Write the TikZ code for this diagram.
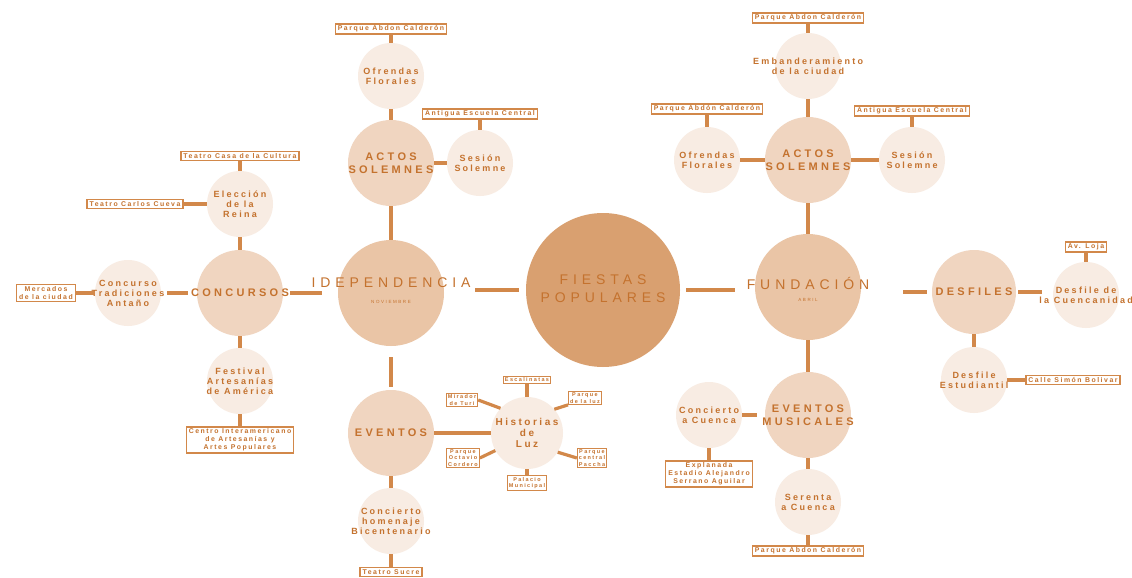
\documentclass[tikz,border=0pt]{standalone}
\usepackage{fontspec}
\setmainfont{Liberation Sans}
\newfontfamily\leaffont[LetterSpace=25]{Liberation Sans}
\newfontfamily\boxfont[LetterSpace=22]{Liberation Sans}
\newfontfamily\midfont[LetterSpace=30]{Liberation Sans}
\newfontfamily\bigfont[LetterSpace=35]{Liberation Sans}
\definecolor{linec}{RGB}{210,136,74}
\definecolor{txtc}{RGB}{196,114,46}
\definecolor{fpc}{RGB}{217,160,112}
\definecolor{secc}{RGB}{234,197,166}
\definecolor{terc}{RGB}{240,213,192}
\definecolor{leafc}{RGB}{248,236,227}
\newcommand\mybub[5]{\node[#1] (#2) at (#3) {}; \node[#5] (#2-t) at (#2) {#4};}
\tikzset{
 conn/.style={draw=linec, line width=3.2pt},
 bub/.style={circle, inner sep=0pt, draw=none},
 leaf/.style={bub, fill=leafc, minimum size=66pt},
 ter/.style={bub, fill=terc, minimum size=86pt},
 sec/.style={bub, fill=secc, minimum size=106pt},
 lt/.style={text=txtc, align=center, font=\leaffont\bfseries\fontsize{9}{10}\selectfont, inner sep=0pt},
 mt/.style={text=txtc, align=center, font=\midfont\bfseries\fontsize{11}{13}\selectfont, inner sep=0pt},
 bt/.style={text=txtc, align=center, font=\bigfont\fontsize{14}{18}\selectfont, inner sep=0pt},
 st/.style={text=txtc, font=\bigfont\fontsize{4.5}{5}\selectfont, inner sep=0pt},
 box/.style={draw=linec, line width=1.3pt, fill=white, text=txtc, align=center, font=\boxfont\bfseries\fontsize{6.9}{8}\selectfont, inner xsep=2.5pt, inner ysep=1.8pt},
 sbox/.style={box, font=\leaffont\bfseries\fontsize{5.5}{6.5}\selectfont, inner xsep=1.5pt, inner ysep=1.2pt, line width=1pt},
}
\begin{document}
\begin{tikzpicture}[x=1pt,y=-1pt]
\fill[white] (0,0) rectangle (1132,578);
\useasboundingbox (0,0) rectangle (1132,578);

% ---------- centre ----------
\node[bub, fill=fpc, minimum size=154pt] (fp) at (603,290) {};
\node[bt] (fp-t) at (603,289) {FIESTAS\\POPULARES};

% ---------- IDEPENDENCIA ----------
\node[sec] (ind) at (391,293) {};
\node[bt] (ind-t) at (391,283) {IDEPENDENCIA};
\node[st] (ind-s) at (391,302) {NOVIEMBRE};

\mybub{ter}{actosL}{391,163}{ACTOS\\SOLEMNES}{mt}
\mybub{leaf}{ofrL}{391,76}{Ofrendas\\Florales}{lt}
\node[box] (pac1) at (391,29) {Parque Abdon Calderón};
\mybub{leaf}{sesL}{480,163}{Sesión\\Solemne}{lt}
\node[box] (aec1) at (480,114) {Antigua Escuela Central};

\mybub{ter}{conc}{240,293}{CONCURSOS}{mt}
\mybub{leaf}{elec}{240,204}{Elección\\de la\\Reina}{lt}
\node[box] (tcc) at (240,156) {Teatro Casa de la Cultura};
\node[box] (tcv) at (135,204) {Teatro Carlos Cueva};
\mybub{leaf}{trad}{128,293}{Concurso\\Tradiciones\\Antaño}{lt}
\node[box] (mer) at (46,293) {Mercados\\de la ciudad};
\mybub{leaf}{fest}{240,381}{Festival\\Artesanías\\de América}{lt}
\node[box] (cen) at (240,440) {Centro Interamericano\\de Artesanías y\\Artes Populares};

\mybub{ter}{ev}{391,433}{EVENTOS}{mt}
\mybub{leaf}{conh}{391,521}{Concierto\\homenaje\\Bicentenario}{lt}
\node[box] (ts) at (391,572) {Teatro Sucre};
\node[bub, fill=leafc, minimum size=72pt] (hist) at (527,433) {};
\node[lt, font=\leaffont\bfseries\fontsize{10}{11}\selectfont] (hist-t) at (hist) {Historias\\de\\Luz};
\node[sbox] (esc) at (527,380) {Escalinatas};
\node[sbox] (mir) at (462,400) {Mirador\\de Turi};
\node[sbox] (luz) at (585,398) {Parque\\de la luz};
\node[sbox] (oct) at (463,458) {Parque\\Octavio\\Cordero};
\node[sbox] (pac) at (592,458) {Parque\\central\\Paccha};
\node[sbox] (pal) at (527,483) {Palacio\\Municipal};

% ---------- FUNDACION ----------
\node[sec] (fund) at (808,287) {};
\node[bt] (fund-t) at (808,283) {FUNDACIÓN};
\node[st] (fund-s) at (808,300) {ABRIL};

\mybub{ter}{actosR}{808,160}{ACTOS\\SOLEMNES}{mt}
\mybub{leaf}{emb}{808,66}{Embanderamiento\\de la ciudad}{lt}
\node[box] (pac2) at (808,18) {Parque Abdon Calderón};
\mybub{leaf}{ofrR}{707,160}{Ofrendas\\Florales}{lt}
\node[box] (pac3) at (707,109) {Parque Abdón Calderón};
\mybub{leaf}{sesR}{912,160}{Sesión\\Solemne}{lt}
\node[box] (aec2) at (912,111) {Antigua Escuela Central};

\mybub{ter}{evmus}{808,415}{EVENTOS\\MUSICALES}{mt}
\mybub{leaf}{concC}{709,415}{Concierto\\a Cuenca}{lt}
\node[box] (exp) at (709,474) {Explanada\\Estadio Alejandro\\Serrano Aguilar};
\mybub{leaf}{ser}{808,502}{Serenta\\a Cuenca}{lt}
\node[box] (pac4) at (808,551) {Parque Abdon Calderón};

\node[ter, minimum size=84pt] (desf) at (974,292) {};
\node[mt] (desf-t) at (desf) {DESFILES};
\mybub{leaf}{cuenc}{1086,295}{Desfile de\\la Cuencanidad}{lt}
\node[box] (loja) at (1086,247) {Av. Loja};
\mybub{leaf}{estud}{974,380}{Desfile\\Estudiantil}{lt}
\node[box] (calle) at (1073,380) {Calle Simón Bolivar};

% ---------- connectors ----------
\draw[conn, shorten <=7pt, shorten >=31pt] (fp.west) -- (fp.west -| ind.east);
\draw[conn, shorten <=6pt, shorten >=20pt] (fp.east) -- (fp.east -| fund.west);

\draw[conn] (ofrL) -- (pac1);
\draw[conn] (ofrL) -- (actosL);
\draw[conn] (actosL) -- (sesL);
\draw[conn] (sesL) -- (aec1);
\draw[conn] (actosL) -- (ind);
\draw[conn, shorten <=7pt, shorten >=16pt] (conc) -- (ind);
\draw[conn, shorten <=9pt, shorten >=6pt] (conc) -- (trad);
\draw[conn] (trad) -- (mer);
\draw[conn] (conc) -- (elec);
\draw[conn] (elec) -- (tcc);
\draw[conn] (elec) -- (tcv);
\draw[conn] (conc) -- (fest);
\draw[conn] (fest) -- (cen);
\draw[conn, shorten <=11pt, shorten >=3pt] (ind) -- (ev);
\draw[conn] (ev) -- (conh);
\draw[conn] (conh) -- (ts);
\draw[conn] (ev) -- (hist);
\draw[conn] (hist) -- (esc);
\draw[conn] (hist) -- (pal);
\draw[conn] (hist.137) -- (mir.east);
\draw[conn] (hist.41) -- (luz.south west);
\draw[conn] (hist.209) -- (oct.east);
\draw[conn] (hist.328) -- (pac.west);

\draw[conn] (fund) -- (actosR);
\draw[conn] (actosR) -- (emb);
\draw[conn] (emb) -- (pac2);
\draw[conn] (actosR) -- (ofrR);
\draw[conn] (ofrR) -- (pac3);
\draw[conn] (actosR) -- (sesR);
\draw[conn] (sesR) -- (aec2);
\draw[conn] (fund) -- (evmus);
\draw[conn, shorten >=8pt] (concC) -- (evmus);
\draw[conn] (concC) -- (exp);
\draw[conn] (evmus) -- (ser);
\draw[conn] (ser) -- (pac4);
\draw[conn, shorten <=5pt, shorten >=42pt] (desf.west) -- (desf.west -| fund.east);
\draw[conn, shorten <=2pt, shorten >=11pt] (desf.east) -- (desf.east -| cuenc.west);
\draw[conn] (cuenc) -- (loja);
\draw[conn] (desf) -- (estud);
\draw[conn] (estud) -- (calle);
\end{tikzpicture}
\end{document}
